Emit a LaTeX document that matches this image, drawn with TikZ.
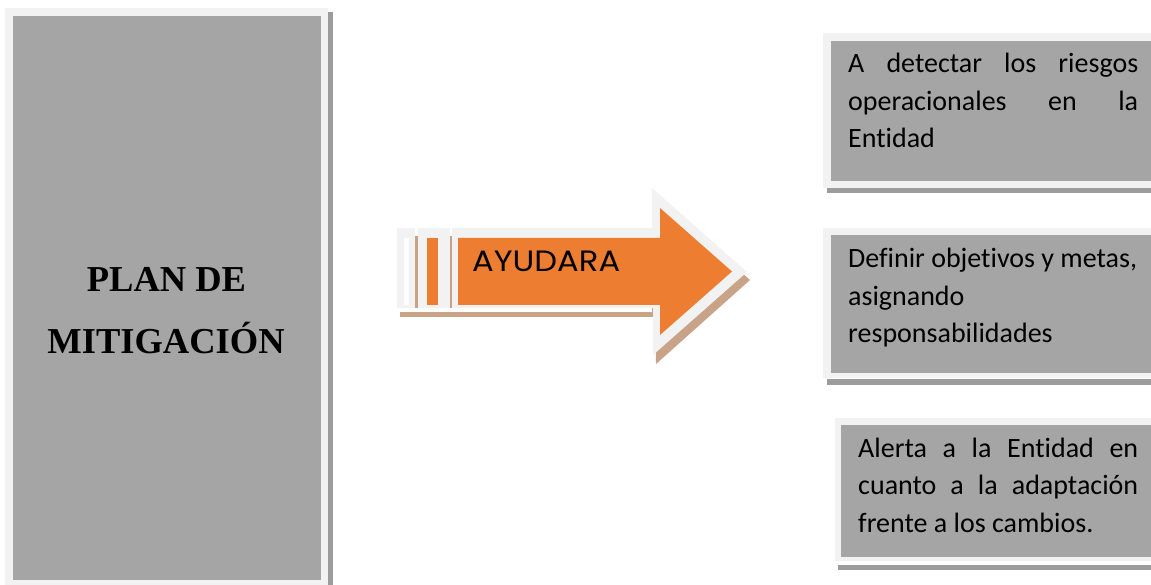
\documentclass[tikz,border=0pt]{standalone}
\usepackage{fontspec}
\setmainfont{Liberation Serif}
\newfontfamily\boxfont[Ligatures={NoCommon,NoContextual}]{Carlito}
\newfontfamily\arrowfont{Poppins}
\definecolor{boxgray}{HTML}{A5A5A5}
\definecolor{framegray}{HTML}{F2F2F2}
\definecolor{shadowgray}{HTML}{9C9C9C}
\definecolor{arroworange}{HTML}{ED7D31}
\definecolor{arrowshadow}{HTML}{C8A388}
\tikzset{
  titletext/.style={inner sep=0pt, anchor=base, font=\fontsize{36.5}{40}\selectfont\bfseries},
  boxtext/.style={inner sep=0pt, anchor=base west, font=\boxfont\fontsize{28}{37.5}\selectfont},
  arrowtext/.style={inner sep=0pt, anchor=base west, font=\arrowfont\fontsize{28}{30}\selectfont},
}
\begin{document}
\begin{tikzpicture}[x=1pt,y=-1pt]
\useasboundingbox (0,0) rectangle (1151,585);
% ---------- left box ----------
\fill[shadowgray] (328,12) rectangle (333,585);
\fill[framegray] (5,8) rectangle (328,585);
\fill[boxgray] (13,16) rectangle (321,580);
\node[titletext] (plan) at (166.5,291) {PLAN DE};
\node[titletext] (mitig) at (166,353) {MITIGACIÓN};
% ---------- arrow ----------
\fill[arrowshadow] (400,236) rectangle (655,317);
\fill[arrowshadow] (655,196) -- (750,280) -- (656,364) -- cycle;
\fill[white] (397,308) rectangle (652,312);
\fill[framegray] (397,228) rectangle (415,308);
\fill[white] (404,238) rectangle (409,305);
\fill[framegray] (418,228) rectangle (450,308);
\fill[arroworange] (427,238) rectangle (438,305);
\fill[framegray] (452,228) -- (652,228) -- (652,188) -- (747,272) -- (653,355) -- (653,308) -- (452,308) -- cycle;
\fill[arroworange] (458,238) -- (660,238) -- (660,208) -- (732,271.5) -- (660,335) -- (660,305) -- (458,305) -- cycle;
\node[arrowtext] (ayudara) at (472,272) {\resizebox{148pt}{20.5pt}{AYUDARA}};
% ---------- right boxes ----------
\fill[shadowgray] (827,188) rectangle (1151,193);
\fill[framegray] (823,33) rectangle (1151,188);
\fill[boxgray] (831,41) rectangle (1151,181);
\node[boxtext] (t1) at (848,73) {\begin{minipage}[t]{290pt}\makebox[290pt][s]{A detectar los riesgos}\\\makebox[290pt][s]{operacionales en la}\\Entidad\end{minipage}};

\fill[shadowgray] (827,379) rectangle (1151,385);
\fill[framegray] (823,228) rectangle (1151,378);
\fill[boxgray] (831,235) rectangle (1151,373);
\node[boxtext] (t2) at (848,268) {\begin{minipage}[t]{290pt}Definir objetivos y metas,\\asignando\\responsabilidades\end{minipage}};

\fill[shadowgray] (838,565) rectangle (1151,570);
\fill[framegray] (835,418) rectangle (1151,561);
\fill[boxgray] (841,425) rectangle (1151,557);
\node[boxtext] (t3) at (858,457) {\begin{minipage}[t]{280pt}\makebox[280pt][s]{Alerta a la Entidad en}\\\makebox[280pt][s]{cuanto a la adaptación}\\frente a los cambios.\end{minipage}};
\end{tikzpicture}
\end{document}
